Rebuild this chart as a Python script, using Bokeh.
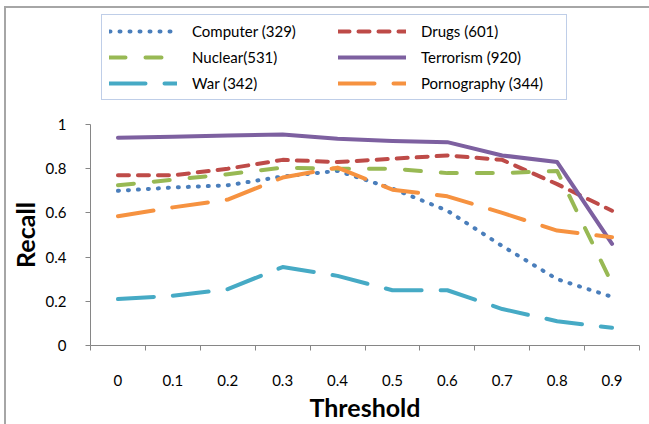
from bokeh.plotting import figure
from bokeh.models import Range1d, FixedTicker, Legend, LegendItem
from bokeh.layouts import column
from bokeh.embed import file_html
from bokeh.resources import INLINE

thresholds = [0, 1, 2, 3, 4, 5, 6, 7, 8, 9]
threshold_labels = ["0", "0.1", "0.2", "0.3", "0.4", "0.5", "0.6", "0.7", "0.8", "0.9"]
y_ticks = [0, 0.2, 0.4, 0.6, 0.8, 1]
y_tick_labels = ["0", "0.2", "0.4", "0.6", "0.8", "1"]

computer = [0.70, 0.715, 0.725, 0.765, 0.79, 0.71, 0.61, 0.45, 0.30, 0.22]
drugs = [0.77, 0.77, 0.80, 0.84, 0.83, 0.845, 0.86, 0.84, 0.73, 0.61]
nuclear = [0.725, 0.75, 0.775, 0.805, 0.80, 0.80, 0.78, 0.78, 0.79, 0.28]
terrorism = [0.94, 0.945, 0.95, 0.955, 0.935, 0.925, 0.92, 0.86, 0.83, 0.46]
war = [0.21, 0.225, 0.255, 0.355, 0.315, 0.25, 0.25, 0.165, 0.11, 0.08]
pornography = [0.585, 0.625, 0.66, 0.76, 0.805, 0.705, 0.675, 0.60, 0.52, 0.49]

series_names = ["Computer (329)", "Drugs (601)", "Nuclear(531)", "Terrorism (920)", "War (342)", "Pornography (344)"]
series_values = [computer, drugs, nuclear, terrorism, war, pornography]
colors = ["#4A7EBB", "#BE4B48", "#98B954", "#7D60A0", "#46AAC5", "#F69240"]
dashes = ["1 9", "11 9", "16 20", "solid", "36 19", "36 19"]
legend_order = [0, 2, 4, 1, 3, 5]  # legend fills column by column

FONT = "Lato"
GRAY = "#868686"

# ---- main chart ----
p = figure(width=643, height=310, output_backend="svg", toolbar_location=None,
           x_range=Range1d(-0.5, 9.5), y_range=Range1d(0, 1),
           min_border_left=84, min_border_right=10, min_border_top=10, min_border_bottom=77)
p.outline_line_color = None
p.xgrid.visible = False
p.ygrid.visible = False

for vals, c, d in zip(series_values, colors, dashes):
    p.line(thresholds, vals, line_color=c, line_width=4, line_dash=d,
           line_cap="round", line_join="round")

xa = p.xaxis[0]
xa.ticker = FixedTicker(ticks=thresholds, minor_ticks=[i - 0.5 for i in range(11)])
xa.major_label_overrides = {t: l for t, l in zip(thresholds, threshold_labels)}
xa.major_tick_line_color = None
xa.major_tick_out = 0
xa.major_tick_in = 0
xa.minor_tick_out = 5
xa.minor_tick_in = 0
xa.minor_tick_line_color = GRAY
xa.axis_line_color = GRAY
xa.major_label_standoff = 24
xa.major_label_text_font = FONT
xa.major_label_text_font_size = "15px"
xa.major_label_text_color = "#000000"
xa.axis_label = "Threshold"
xa.axis_label_text_font = FONT
xa.axis_label_text_font_style = "bold"
xa.axis_label_text_font_size = "25px"
xa.axis_label_standoff = 3
xa.axis_label_text_color = "#000000"

ya = p.yaxis[0]
ya.ticker = FixedTicker(ticks=y_ticks, minor_ticks=[])
ya.major_label_overrides = {t: l for t, l in zip(y_ticks, y_tick_labels)}
ya.major_tick_line_color = GRAY
ya.major_tick_out = 5
ya.major_tick_in = 0
ya.minor_tick_line_color = None
ya.axis_line_color = GRAY
ya.major_label_standoff = 19
ya.major_label_text_font = FONT
ya.major_label_text_font_size = "15px"
ya.major_label_text_color = "#000000"
ya.axis_label = "Recall"
ya.axis_label_text_font = FONT
ya.axis_label_text_font_style = "bold"
ya.axis_label_text_font_size = "25px"
ya.axis_label_standoff = 3
ya.axis_label_text_color = "#000000"

# ---- legend strip above the chart (its key lines carry the same data, kept out of view) ----
lf = figure(width=643, height=106, output_backend="svg", toolbar_location=None,
            x_axis_location=None, y_axis_location=None,
            x_range=Range1d(-30, -29), y_range=Range1d(-30, -29),
            min_border_left=0, min_border_right=0, min_border_top=0, min_border_bottom=0)
lf.outline_line_color = None
lf.xgrid.visible = False
lf.ygrid.visible = False
keys = []
for vals, c, d in zip(series_values, colors, dashes):
    keys.append(lf.line(thresholds, vals, line_color=c, line_width=4, line_dash=d,
                        line_cap="round", line_join="round"))

items = [LegendItem(label=series_names[i], renderers=[keys[i]]) for i in legend_order]
legend = Legend(items=items, ncols=2, location=(11, 14), margin=0,
                border_line_color="#7F9ED2", border_line_width=1.5,
                background_fill_color="white", background_fill_alpha=1,
                padding=7, spacing=8, glyph_width=68, glyph_height=18,
                label_standoff=15, label_width=138, label_height=18,
                label_text_font=FONT, label_text_font_size="15px", label_text_color="#000000")
lf.add_layout(legend, "center")

layout = column(lf, p, spacing=0,
                styles={"margin-left": "4px", "margin-top": "6px",
                        "border-left": "2px solid #a6a6a6", "border-top": "2px solid #a6a6a6"})

open("out.html", "w").write(file_html(layout, INLINE))
